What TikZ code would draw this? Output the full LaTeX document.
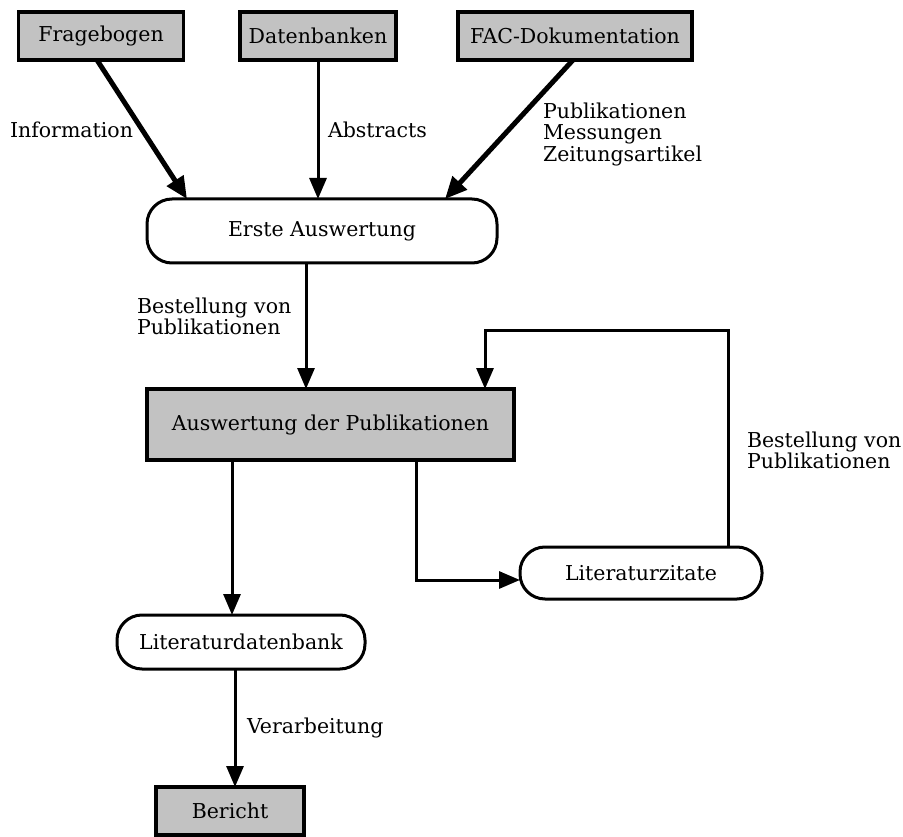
\documentclass[tikz,border=0pt]{standalone}
\usepackage{fontspec}
\setmainfont{DejaVu Serif}
\usetikzlibrary{arrows.meta,calc}
\begin{document}
\begin{tikzpicture}[x=1pt,y=-1pt,
  every node/.style={inner sep=0pt,outer sep=0pt},
  txt/.style={font=\fontsize{20.5}{21}\selectfont},
  shaded/.style={draw,line width=3.5pt,fill=black!24,txt,minimum height=48pt},
  roundbox/.style={draw,line width=3pt,fill=white,rounded corners=25pt,txt},
  lbl/.style={txt,anchor=west,align=left},
  arr/.style={line width=3pt,-{Triangle[length=21pt,width=17pt]}},
  thickarr/.style={line width=5pt,-{Triangle[length=22pt,width=19pt]}}]
\useasboundingbox (0,0) rectangle (903,837);
% nodes
\node[shaded,minimum width=165pt] (frag) at (101,36) {Fragebogen};
\node[shaded,minimum width=156pt] (daten) at (318,36) {Datenbanken};
\node[shaded,minimum width=234pt] (fac) at (575,36) {FAC-Dokumentation};
\node[roundbox,minimum width=350pt,minimum height=64pt] (erste) at (322,231) {Erste Auswertung};
\node[shaded,minimum width=367pt,minimum height=71pt] (ausw) at (330.5,424.5) {Auswertung der Publikationen};
\node[roundbox,minimum width=242pt,minimum height=52pt] (litz) at (641,573) {Literaturzitate};
\node[roundbox,minimum width=248pt,minimum height=54pt] (litdb) at (241,642) {Literaturdatenbank};
\node[shaded,minimum width=148pt,minimum height=48pt] (ber) at (230,811) {Bericht};
\coordinate (loopc) at (485,331);
% labels
\node[lbl] (l1) at (10,130) {Information};
\node[lbl] (l2) at (328,130) {Abstracts};
\node[lbl,font=\fontsize{20.5}{21.5}\selectfont] (l3) at (543,134) {Publikationen\\Messungen\\Zeitungsartikel};
\node[lbl,font=\fontsize{20.5}{18.5}\selectfont] (l4) at (137,316) {Bestellung von\\Publikationen};
\node[lbl] (l5) at (747,450) {Bestellung von\\Publikationen};
\node[lbl] (l6) at (247,728) {Verarbeitung};
% connectors
\draw[thickarr] ($(frag.south)+(-4,0)$) -- ($(erste.north west)+(40,0)$);
\draw[arr] (daten.south) -- (daten.south |- erste.north);
\draw[thickarr] ($(fac.south)+(-2,0)$) -- ($(erste.north east)+(-52,0)$);
\draw[arr] ($(erste.south)+(-16,0)$) -- ($(ausw.north west)+(159,0)$);
\draw[arr] ($(litz.north east)+(-34,0)$) |- (loopc) -- (loopc |- ausw.north);
\draw[arr] ($(ausw.south west)+(269,0)$) |- ($(litz.west)+(0,7)$);
\draw[arr] ($(ausw.south west)+(85,0)$) -- ($(litdb.north west)+(115,0)$);
\draw[arr] ($(litdb.south west)+(118,0)$) -- ($(ber.north west)+(79,0)$);
\end{tikzpicture}
\end{document}
